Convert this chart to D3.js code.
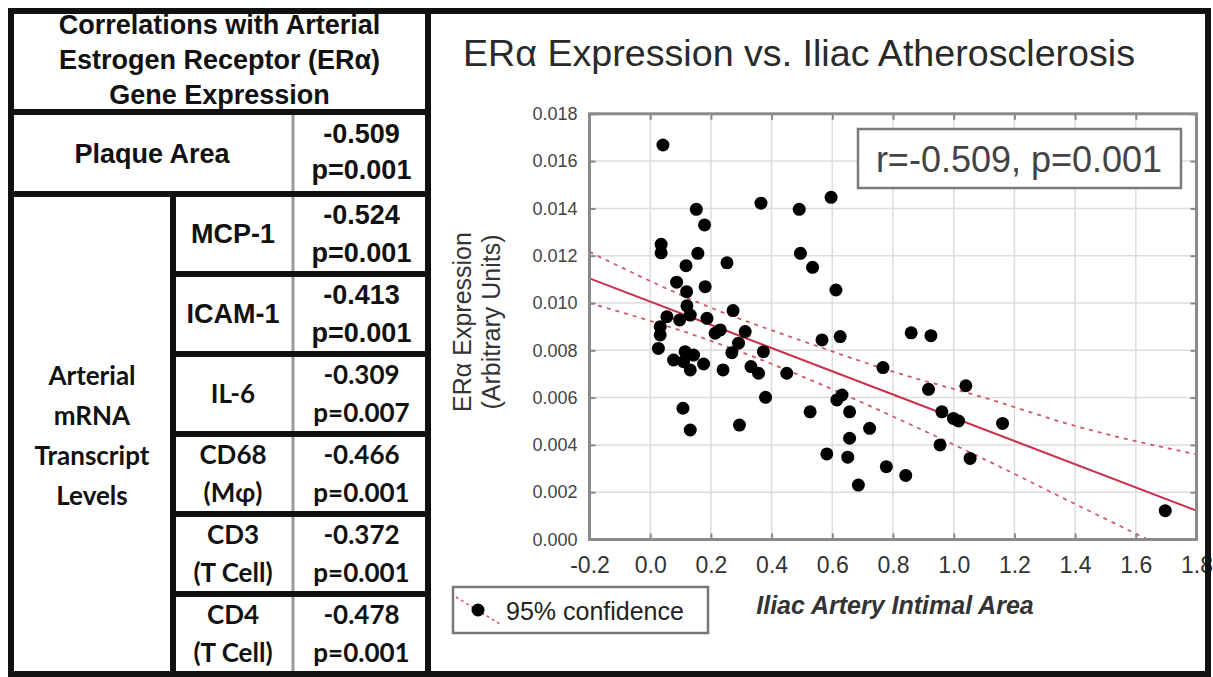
<!DOCTYPE html>
<html>
<head>
<meta charset="utf-8">
<script src="https://cdn.jsdelivr.net/npm/d3@7"></script>
<style>
body { margin: 0; background: #fff; }
svg { display: block; }
</style>
</head>
<body>
<div id="chart"></div>
<script>
// table data
var headerLines = ["Correlations with Arterial", "Estrogen Receptor (ERα)", "Gene Expression"];
var plaqueLabel = "Plaque Area";
var plaqueR = "-0.509", plaqueP = "p=0.001";
var groupLines = ["Arterial", "mRNA", "Transcript", "Levels"];
var markers = [["MCP-1"], ["ICAM-1"], ["IL-6"], ["CD68", "(Mφ)"], ["CD3", "(T Cell)"], ["CD4", "(T Cell)"]];
var markerR = ["-0.524", "-0.413", "-0.309", "-0.466", "-0.372", "-0.478"];
var markerP = ["p=0.001", "p=0.001", "p=0.007", "p=0.001", "p=0.001", "p=0.001"];
var calibriRow = [false, false, true, true, true, true];

// scatter data
var intimalArea = [0.042, 0.152, 0.179, 0.365, 0.491, 0.036, 0.036, 0.157, 0.253, 0.118,
  0.495, 0.535, 0.087, 0.181, 0.120, 0.273, 0.121, 0.055, 0.097, 0.132,
  0.187, 0.033, 0.033, 0.214, 0.231, 0.313, 0.291, 0.269, 0.373, 0.027,
  0.077, 0.115, 0.143, 0.110, 0.176, 0.132, 0.240, 0.332, 0.357, 0.450,
  0.380, 0.108, 0.294, 0.132, 0.527, 0.596, 0.612, 0.566, 0.626, 0.860,
  0.925, 0.767, 0.632, 0.615, 0.917, 1.040, 0.657, 0.961, 1.016, 0.999,
  1.161, 0.723, 0.657, 0.955, 0.582, 0.651, 1.054, 0.778, 0.842, 0.686,
  1.697];
var erExpression = [0.01668, 0.01396, 0.01330, 0.01422, 0.01396, 0.01248, 0.01212, 0.01210, 0.01170, 0.01158,
  0.01210, 0.01151, 0.01088, 0.01069, 0.01048, 0.00968, 0.00988, 0.00942, 0.00928, 0.00949,
  0.00935, 0.00900, 0.00865, 0.00872, 0.00886, 0.00879, 0.00830, 0.00790, 0.00794, 0.00808,
  0.00759, 0.00794, 0.00780, 0.00752, 0.00742, 0.00717, 0.00717, 0.00731, 0.00703, 0.00703,
  0.00601, 0.00555, 0.00484, 0.00463, 0.00540, 0.01447, 0.01055, 0.00844, 0.00858, 0.00874,
  0.00862, 0.00727, 0.00611, 0.00590, 0.00635, 0.00650, 0.00540, 0.00540, 0.00501, 0.00512,
  0.00491, 0.00470, 0.00428, 0.00400, 0.00362, 0.00348, 0.00343, 0.00308, 0.00271, 0.00230,
  0.00122];

// regression line and 95% band
var fitX = [-0.2, 1.8];
var fitY = [0.01104, 0.00122];
var bandX = [-0.2, 0.2, 0.5, 0.8, 1.1, 1.4, 1.8];
var bandUpper = [0.01216, 0.0098, 0.0084, 0.0071, 0.0060, 0.0048, 0.0036];
var bandLower = [0.0100, 0.0084, 0.0069, 0.0052, 0.0034, 0.0015, -0.0010];

var xTicks = [-0.2, 0, 0.2, 0.4, 0.6, 0.8, 1.0, 1.2, 1.4, 1.6, 1.8];
var yTicks = [0, 0.002, 0.004, 0.006, 0.008, 0.010, 0.012, 0.014, 0.016, 0.018];

var chartTitle = "ERα Expression vs. Iliac Atherosclerosis";
var yTitle = ["ERα Expression", "(Arbitrary Units)"];
var xTitle = "Iliac Artery Intimal Area";
var statText = "r=-0.509, p=0.001";
var legendText = "95% confidence";

var W = 1213, H = 677;
var arial = "Arial, 'Liberation Sans', sans-serif";
var calibri = "Lato, 'Open Sans', sans-serif";

var svg = d3.select("#chart").append("svg")
  .attr("width", W)
  .attr("height", H);

svg.append("rect").attr("width", W).attr("height", H).attr("fill", "#fff");

// ---------- table ----------
var tbl = {left: 11, right: 428, top: 11, bottom: 674, headBottom: 112, plaqueBottom: 194, groupRight: 173, valueLeft: 293};
var rows = d3.scaleBand().domain(d3.range(markers.length)).range([tbl.plaqueBottom, tbl.bottom]);
var tg = svg.append("g");

var labelX = (tbl.groupRight + tbl.valueLeft) / 2,
  valueX = (tbl.valueLeft + tbl.right) / 2 + 1;

tg.selectAll("text.head")
  .data(headerLines)
  .enter().append("text")
  .attr("x", (tbl.left + tbl.right) / 2)
  .attr("y", function(d, i) { return 34 + i * 35; })
  .attr("text-anchor", "middle")
  .style("font", "bold 27px " + arial)
  .attr("fill", "#111")
  .text(function(d) { return d; });

tg.append("text")
  .attr("x", (tbl.left + tbl.valueLeft) / 2)
  .attr("y", 163)
  .attr("text-anchor", "middle")
  .style("font", "bold 27px " + arial)
  .attr("fill", "#111")
  .text(plaqueLabel);

tg.selectAll("text.pv")
  .data([plaqueR, plaqueP])
  .enter().append("text")
  .attr("x", valueX)
  .attr("y", function(d, i) { return tbl.headBottom + 31 + i * 36; })
  .attr("text-anchor", "middle")
  .style("font", "bold 27px " + arial)
  .attr("fill", "#111")
  .text(function(d) { return d; });

tg.selectAll("text.grp")
  .data(groupLines)
  .enter().append("text")
  .attr("x", (tbl.left + tbl.groupRight) / 2)
  .attr("y", function(d, i) { return 385 + i * 40; })
  .attr("text-anchor", "middle")
  .style("font", "bold 26px " + calibri)
  .attr("fill", "#111")
  .text(function(d) { return d; });

var row = tg.selectAll("g.row")
  .data(markers)
  .enter().append("g")
  .attr("transform", function(d, i) { return "translate(0," + rows(i) + ")"; });

row.each(function(lines, i) {
  var g = d3.select(this);
  var font = calibriRow[i] ? "bold 26px " + calibri : "bold 27px " + arial;
  var h = rows.bandwidth();
  g.selectAll("text.lab")
    .data(lines)
    .enter().append("text")
    .attr("x", labelX)
    .attr("y", function(d, j) { return lines.length == 1 ? h / 2 + 9 : 30 + j * 38; })
    .attr("text-anchor", "middle")
    .style("font", font)
    .attr("fill", "#111")
    .text(function(d) { return d; });
  g.selectAll("text.val")
    .data([markerR[i], markerP[i]])
    .enter().append("text")
    .attr("x", valueX)
    .attr("y", function(d, j) { return 30 + j * 38; })
    .attr("text-anchor", "middle")
    .style("font", font)
    .attr("fill", "#111")
    .text(function(d) { return d; });
});

// table rules
tg.append("line")
  .attr("x1", tbl.valueLeft).attr("x2", tbl.valueLeft)
  .attr("y1", tbl.headBottom).attr("y2", tbl.bottom)
  .attr("stroke", "#9a9a9a").attr("stroke-width", 3);
tg.append("line")
  .attr("x1", tbl.groupRight).attr("x2", tbl.groupRight)
  .attr("y1", tbl.plaqueBottom).attr("y2", tbl.bottom)
  .attr("stroke", "#111").attr("stroke-width", 6);
tg.selectAll("line.hrow")
  .data([tbl.headBottom, tbl.plaqueBottom])
  .enter().append("line")
  .attr("x1", tbl.left).attr("x2", tbl.right)
  .attr("y1", function(d) { return d; }).attr("y2", function(d) { return d; })
  .attr("stroke", "#111").attr("stroke-width", 6);
tg.selectAll("line.mrow")
  .data(d3.range(1, markers.length))
  .enter().append("line")
  .attr("x1", tbl.groupRight).attr("x2", tbl.right)
  .attr("y1", function(i) { return rows(i); }).attr("y2", function(i) { return rows(i); })
  .attr("stroke", "#111").attr("stroke-width", 6);

// ---------- scatter ----------
var plot = {left: 589.5, right: 1196.5, top: 113.8, bottom: 539.5};
var x = d3.scaleLinear().domain([-0.2, 1.8]).range([plot.left, plot.right]);
var y = d3.scaleLinear().domain([0, 0.018]).range([plot.bottom, plot.top]);

svg.append("text")
  .attr("x", 799)
  .attr("y", 66)
  .attr("text-anchor", "middle")
  .attr("textLength", 672)
  .attr("lengthAdjust", "spacingAndGlyphs")
  .style("font", "36px " + arial)
  .attr("fill", "#2a2a2a")
  .text(chartTitle);

svg.append("clipPath").attr("id", "clip")
  .append("rect")
  .attr("x", plot.left).attr("y", plot.top)
  .attr("width", plot.right - plot.left).attr("height", plot.bottom - plot.top);

// grid
var grid = svg.append("g").attr("stroke", "#dcdcdc").attr("stroke-width", 1.5);
grid.selectAll("line.gx")
  .data(xTicks.slice(1, -1))
  .enter().append("line")
  .attr("x1", x).attr("x2", x)
  .attr("y1", plot.top).attr("y2", plot.bottom);
grid.selectAll("line.gy")
  .data(yTicks.slice(1, -1))
  .enter().append("line")
  .attr("x1", plot.left).attr("x2", plot.right)
  .attr("y1", y).attr("y2", y);

var inner = svg.append("g").attr("clip-path", "url(#clip)");

var bandLine = d3.line()
  .x(function(d) { return x(d[0]); })
  .y(function(d) { return y(d[1]); })
  .curve(d3.curveMonotoneX);

[bandUpper, bandLower].forEach(function(b) {
  inner.append("path")
    .datum(d3.zip(bandX, b))
    .attr("d", bandLine)
    .attr("fill", "none")
    .attr("stroke", "#cf5a6a")
    .attr("stroke-width", 1.8)
    .attr("stroke-dasharray", "4,5");
});

inner.append("path")
  .datum(d3.zip(fitX, fitY))
  .attr("d", bandLine)
  .attr("fill", "none")
  .attr("stroke", "#c8324a")
  .attr("stroke-width", 2);

inner.selectAll("circle")
  .data(d3.zip(intimalArea, erExpression))
  .enter().append("circle")
  .attr("cx", function(d) { return x(d[0]); })
  .attr("cy", function(d) { return y(d[1]); })
  .attr("r", 6.5)
  .attr("fill", "#000");

// axes with inward ticks
function styleAxis(g) {
  g.select(".domain").remove();
  g.selectAll(".tick line").attr("stroke", "#888").attr("stroke-width", 2);
}
svg.append("g")
  .attr("transform", "translate(0," + plot.bottom + ")")
  .call(d3.axisBottom(x).tickValues(xTicks).tickSize(-6).tickPadding(17)
    .tickFormat(function(d) { return d.toFixed(1); }))
  .call(styleAxis)
  .call(function(g) {
    g.selectAll("text").style("font", "23px " + arial).attr("fill", "#333");
  });
svg.append("g")
  .attr("transform", "translate(0," + plot.top + ")")
  .call(d3.axisTop(x).tickValues(xTicks).tickSize(-6).tickFormat(""))
  .call(styleAxis);
svg.append("g")
  .attr("transform", "translate(" + plot.left + ",0)")
  .call(d3.axisLeft(y).tickValues(yTicks).tickSize(-6).tickPadding(12)
    .tickFormat(d3.format(".3f")))
  .call(styleAxis)
  .call(function(g) {
    g.selectAll("text").style("font", "18px " + arial).attr("fill", "#444");
  });
svg.append("g")
  .attr("transform", "translate(" + plot.right + ",0)")
  .call(d3.axisRight(y).tickValues(yTicks).tickSize(-6).tickFormat(""))
  .call(styleAxis);

svg.append("rect")
  .attr("x", plot.left).attr("y", plot.top)
  .attr("width", plot.right - plot.left).attr("height", plot.bottom - plot.top)
  .attr("fill", "none")
  .attr("stroke", "#8a8a8a")
  .attr("stroke-width", 3);

// stat box
svg.append("rect")
  .attr("x", 858).attr("y", 129).attr("width", 323).attr("height", 59)
  .attr("fill", "#fff").attr("stroke", "#7a7a7a").attr("stroke-width", 2.5);
svg.append("text")
  .attr("x", 1019).attr("y", 172)
  .attr("text-anchor", "middle")
  .style("font", "36px " + arial)
  .attr("fill", "#444")
  .text(statText);

// axis titles
svg.selectAll("text.ytitle")
  .data(yTitle)
  .enter().append("text")
  .attr("transform", function(d, i) { return "translate(" + (471 + i * 29) + ",322) rotate(-90)"; })
  .attr("text-anchor", "middle")
  .style("font", "25px " + arial)
  .attr("fill", "#333")
  .text(function(d) { return d; });

svg.append("text")
  .attr("x", 895).attr("y", 614)
  .attr("text-anchor", "middle")
  .style("font", "italic bold 25px " + arial)
  .attr("fill", "#333")
  .text(xTitle);

// legend
var lg = svg.append("g").attr("transform", "translate(453,587)");
lg.append("rect")
  .attr("width", 255).attr("height", 46)
  .attr("fill", "#fff").attr("stroke", "#777").attr("stroke-width", 2.5);
lg.append("line")
  .attr("x1", 3).attr("y1", 10).attr("x2", 47).attr("y2", 37)
  .attr("stroke", "#cf5a6a").attr("stroke-width", 1.5).attr("stroke-dasharray", "3,3");
lg.append("circle").attr("cx", 25).attr("cy", 23).attr("r", 6.5).attr("fill", "#000");
lg.append("text")
  .attr("x", 53).attr("y", 33)
  .style("font", "25px " + arial)
  .attr("fill", "#222")
  .text(legendText);

// outer frame and divider
svg.append("rect")
  .attr("x", 11).attr("y", 11).attr("width", 1197).attr("height", 663)
  .attr("fill", "none").attr("stroke", "#111").attr("stroke-width", 6);
svg.append("line")
  .attr("x1", tbl.right).attr("x2", tbl.right)
  .attr("y1", tbl.top).attr("y2", tbl.bottom)
  .attr("stroke", "#111").attr("stroke-width", 6);
</script>
</body>
</html>
